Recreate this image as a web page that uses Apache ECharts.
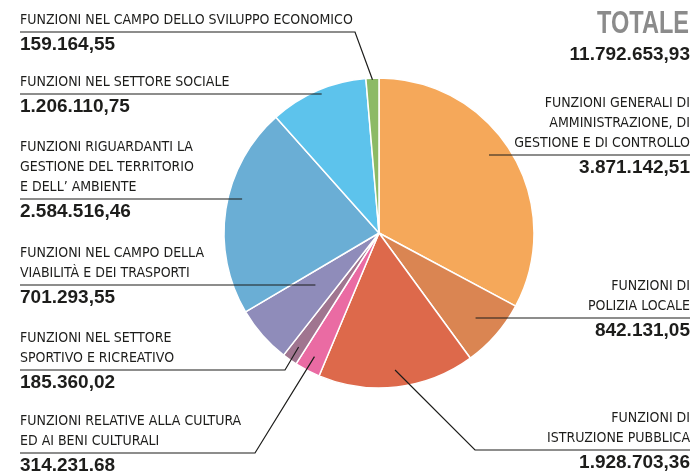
<!DOCTYPE html>
<html><head><meta charset="utf-8">
<script src="https://cdn.jsdelivr.net/npm/echarts@6/dist/echarts.min.js"></script>
<style>html,body{margin:0;padding:0;background:#fff}#c{width:693px;height:473px}</style>
</head><body><div id="c"></div>
<script>
// ---- data ----
const categories = [
  'FUNZIONI GENERALI DI\nAMMINISTRAZIONE, DI\nGESTIONE E DI CONTROLLO',
  'FUNZIONI DI\nPOLIZIA LOCALE',
  'FUNZIONI DI\nISTRUZIONE PUBBLICA',
  'FUNZIONI RELATIVE ALLA CULTURA\nED AI BENI CULTURALI',
  'FUNZIONI NEL SETTORE\nSPORTIVO E RICREATIVO',
  'FUNZIONI NEL CAMPO DELLA\nVIABILITÀ E DEI TRASPORTI',
  'FUNZIONI RIGUARDANTI LA\nGESTIONE DEL TERRITORIO\nE DELL’ AMBIENTE',
  'FUNZIONI NEL SETTORE SOCIALE',
  'FUNZIONI NEL CAMPO DELLO SVILUPPO ECONOMICO'
];
const values = [3871142.51, 842131.05, 1928703.36, 314231.68, 185360.02, 701293.55, 2584516.46, 1206110.75, 159164.55];
const valueLabels = ['3.871.142,51', '842.131,05', '1.928.703,36', '314.231.68', '185.360,02', '701.293,55', '2.584.516,46', '1.206.110,75', '159.164,55'];
const totalTitle = 'TOTALE';
const totalLabel = '11.792.653,93';

// ---- styles / layout ----
const colors = ['#F5A85A', '#DA8552', '#DD694B', '#EA6BA3', '#A07590', '#8F8CBA', '#6AAED5', '#5DC3EC', '#8CBA65'];
const CX = 379, CY = 233, R = 155;
const LEFT_X = 20, RIGHT_X = 690;
const labelSide = ['right', 'right', 'right', 'left', 'left', 'left', 'left', 'left', 'left'];
const lineY = [155, 318, 450, 453, 370, 285, 199, 94, 32];
const anchorFrac = [0.87, 0.83, 0.89, 0.9, 0.9, 0.53, 0.91, 0.97, 0.99];
const bendX = [null, null, 475, 255, 285, null, null, null, 355];
const NAME_FONT = '"DejaVu Sans Condensed","Liberation Sans Narrow",sans-serif';
const VALUE_FONT = '"Liberation Sans",Arial,sans-serif';
const NAME_LH = 20, VALUE_LH = 30;
const INK = '#1d1d1b';

const total = values.reduce((a, b) => a + b, 0);
const cum = []; let acc = 0; values.forEach(v => { cum.push(acc); acc += v; });
function midAngle(i) { const p = (cum[i] + values[i] / 2) / total; return -Math.PI / 2 + 2 * Math.PI * p; }

function layoutLabel(params) {
  const i = params.dataIndex;
  const side = labelSide[i];
  const ly = lineY[i];
  const endX = side === 'left' ? LEFT_X : RIGHT_X;
  const nLines = categories[i].split('\n').length;
  let pts;
  if (bendX[i] == null) {
    const r = anchorFrac[i] * R, dy = ly - CY;
    const dx = Math.sqrt(Math.max(r * r - dy * dy, 0));
    const a = [side === 'left' ? CX - dx : CX + dx, ly];
    pts = [a, a, [endX, ly]];
  } else {
    const ang = midAngle(i), r = anchorFrac[i] * R;
    pts = [[CX + r * Math.cos(ang), CY + r * Math.sin(ang)], [bendX[i], ly], [endX, ly]];
  }
  return { x: endX, y: ly - 2 - NAME_LH * nLines, align: side, verticalAlign: 'top', labelLinePoints: pts };
}

const pieData = values.map((v, i) => ({ value: v, name: categories[i], itemStyle: { color: colors[i] } }));
const overlayData = values.map((v, i) => ({ value: v, name: categories[i] }));

const chart = echarts.init(document.getElementById('c'), null, { renderer: 'canvas' });
chart.setOption({
  animation: false,
  graphic: [
    { type: 'text', x: 689, y: 24, scaleX: 0.76, z: 10,
      style: { text: totalTitle, align: 'right', verticalAlign: 'middle', fill: '#8b8b8b',
               font: 'bold 31px "Liberation Sans", Arial, sans-serif' } },
    { type: 'text', x: 690, y: 55, z: 10,
      style: { text: totalLabel, align: 'right', verticalAlign: 'middle', fill: INK,
               font: 'bold 19px "Liberation Sans", Arial, sans-serif' } }
  ],
  series: [{
    type: 'pie', z: 2,
    center: [CX, CY], radius: R, startAngle: 90, clockwise: true,
    silent: true,
    itemStyle: { borderColor: '#ffffff', borderWidth: 1.5 },
    label: { show: false }, labelLine: { show: false },
    data: pieData
  }, {
    type: 'pie', z: 3,
    center: [CX, CY], radius: R, startAngle: 90, clockwise: true,
    avoidLabelOverlap: false, silent: true,
    itemStyle: { color: 'rgba(0,0,0,0)', borderWidth: 0 },
    label: {
      show: true, position: 'outside', overflow: 'none',
      formatter: p => categories[p.dataIndex].split('\n').map(s => '{n|' + s + '}').join('\n') + '\n{v|' + valueLabels[p.dataIndex] + '}',
      rich: {
        n: { fontFamily: NAME_FONT, fontSize: 14, lineHeight: NAME_LH, color: INK },
        v: { fontFamily: VALUE_FONT, fontWeight: 'bold', fontSize: 19, lineHeight: VALUE_LH, color: INK }
      }
    },
    labelLine: { show: true, smooth: false, lineStyle: { color: INK, width: 1.2 } },
    labelLayout: layoutLabel,
    data: overlayData
  }]
});
</script>
</body></html>
